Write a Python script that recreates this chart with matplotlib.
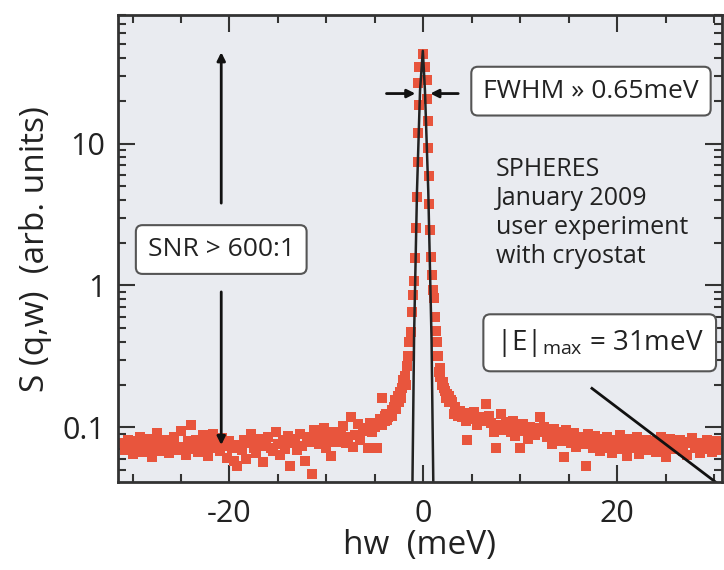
import numpy as np
import matplotlib
matplotlib.use('Agg')
import matplotlib.pyplot as plt
from matplotlib.ticker import MultipleLocator, LogLocator, FixedLocator, FixedFormatter, NullFormatter

plt.rcParams['font.family'] = ['Open Sans', 'DejaVu Sans']
plt.rcParams['mathtext.default'] = 'regular'
plt.rcParams['axes.unicode_minus'] = False

# measured spectrum, left wing (-31 ... -3.75 meV, 0.25 meV channels)
left_wing = [0.078, 0.069, 0.082, 0.073, 0.065, 0.080, 0.071, 0.086, 0.067, 0.075,
             0.083, 0.070, 0.062, 0.079, 0.091, 0.072, 0.068, 0.081, 0.074, 0.066,
             0.077, 0.085, 0.069, 0.073, 0.094, 0.071, 0.064, 0.080, 0.104, 0.070,
             0.082, 0.067, 0.078, 0.088, 0.072, 0.063, 0.079, 0.090, 0.071, 0.076,
             0.068, 0.084, 0.074, 0.061, 0.080, 0.072, 0.058, 0.053, 0.075, 0.069,
             0.081, 0.060, 0.077, 0.089, 0.071, 0.066, 0.083, 0.074, 0.057, 0.079,
             0.085, 0.072, 0.068, 0.092, 0.076, 0.064, 0.081, 0.070, 0.087, 0.053,
             0.078, 0.083, 0.069, 0.090, 0.074, 0.058, 0.086, 0.079, 0.047, 0.095,
             0.081, 0.076, 0.088, 0.099, 0.071, 0.084, 0.063, 0.092, 0.079, 0.086,
             0.090, 0.102, 0.078, 0.085, 0.118, 0.073, 0.088, 0.105, 0.082, 0.094,
             0.099, 0.071, 0.108, 0.093, 0.101, 0.072, 0.115, 0.104, 0.120, 0.112]

# right wing (3.75 ... 31 meV)
right_wing = [0.130, 0.118, 0.126, 0.082, 0.122, 0.114, 0.128, 0.103, 0.119, 0.111,
              0.115, 0.146, 0.121, 0.107, 0.093, 0.072, 0.104, 0.125, 0.096, 0.109,
              0.101, 0.092, 0.110, 0.087, 0.098, 0.072, 0.105, 0.094, 0.083, 0.100,
              0.096, 0.088, 0.099, 0.118, 0.093, 0.101, 0.085, 0.090, 0.076, 0.098,
              0.087, 0.092, 0.080, 0.062, 0.095, 0.084, 0.078, 0.091, 0.073, 0.086,
              0.082, 0.076, 0.053, 0.089, 0.079, 0.071, 0.087, 0.083, 0.068, 0.080,
              0.077, 0.085, 0.072, 0.066, 0.081, 0.074, 0.088, 0.070, 0.079, 0.063,
              0.083, 0.071, 0.076, 0.086, 0.065, 0.078, 0.073, 0.082, 0.069, 0.075,
              0.080, 0.067, 0.074, 0.085, 0.071, 0.062, 0.078, 0.083, 0.070, 0.076,
              0.073, 0.081, 0.068, 0.077, 0.064, 0.079, 0.084, 0.071, 0.075, 0.066,
              0.078, 0.070, 0.082, 0.074, 0.067, 0.076, 0.080, 0.069, 0.073, 0.077]

# elastic peak region
core_e = [-4.3, -4.0, -3.8, -3.6, -3.4, -3.25, -3.2, -3.0, -2.9, -2.8, -2.7, -2.6,
          -2.5, -2.4, -2.3, -2.2, -2.05, -1.9, -1.8, -1.7, -1.6, -1.45, -1.3, -1.2,
          -1.03, -0.92, -0.85, -0.75, -0.62, -0.58, -0.5, -0.44, -0.5, -0.4, -0.07,
          0.17, 0.34, 0.34, 0.44, 0.44, 0.58, 0.62, 0.68, 0.75, 0.85, 1.03, 1.13,
          1.2, 1.36, 1.45, 1.54, 1.6, 1.7, 1.75, 1.9, 2.0, 2.1, 2.2, 2.3, 2.4, 2.6,
          2.7, 2.9, 3.0, 3.2, 3.3, 3.5, 3.6, 4.0, 4.4]
core_s = [0.16, 0.11, 0.125, 0.118, 0.125, 0.132, 0.12, 0.14, 0.155, 0.135, 0.15, 0.165,
          0.15, 0.177, 0.16, 0.19, 0.214, 0.23, 0.2, 0.27, 0.32, 0.40, 0.47, 0.65,
          0.85, 1.08, 1.56, 2.55, 4.19, 7.38, 11.9, 18.7, 26.6, 34.8, 42.9,
          34.8, 28.1, 20.6, 14.5, 9.3, 5.95, 3.76, 2.44, 1.58, 1.19, 0.93, 0.81,
          0.60, 0.48, 0.40, 0.32, 0.245, 0.26, 0.225, 0.20, 0.21, 0.19, 0.18, 0.16, 0.172, 0.165,
          0.15, 0.155, 0.15, 0.125, 0.139, 0.13, 0.12, 0.125, 0.11]

# resolution function (solid line)
res_e = [-1.12, -0.95, -0.65, -0.34, -0.05, 0.17, 0.51, 0.85, 1.03]
res_s = [0.041, 0.45, 4.67, 23.6, 45.0, 23.6, 4.67, 0.41, 0.041]

e_left = np.linspace(-31.0, -3.75, len(left_wing))
e_right = np.linspace(3.75, 31.0, len(right_wing))

fig = plt.figure(figsize=(7.24, 5.70), dpi=100)
ax = fig.add_axes([0.163, 0.154, 0.834, 0.819])
ax.set_facecolor('#e9ebf0')

dot = dict(marker='s', ms=6.6, mew=0, ls='none', color='#e8553d')
ax.plot(e_left, left_wing, **dot)
ax.plot(e_right, right_wing, **dot)
ax.plot(core_e, core_s, **dot)
ax.plot(res_e, res_s, color='#222222', lw=1.8)

ax.set_yscale('log')
ax.set_xlim(-31.5, 30.8)
ax.set_ylim(0.041, 80)

# annotations
arr = dict(arrowstyle='-|>', color='#111111', lw=2, mutation_scale=12, shrinkA=0, shrinkB=0)
ax.annotate('', xy=(-20.85, 44), xytext=(-20.85, 3.8), arrowprops=arr)
ax.annotate('', xy=(-20.85, 0.075), xytext=(-20.85, 0.9), arrowprops=arr)
ax.annotate('', xy=(-0.82, 22.5), xytext=(-3.8, 22.5), arrowprops=arr)
ax.annotate('', xy=(0.72, 22.5), xytext=(3.6, 22.5), arrowprops=arr)
ax.plot([17.4, 31.5], [0.188, 0.035], color='#111111', lw=2)

box = dict(boxstyle='round,pad=0.45,rounding_size=0.25', fc='white', ec='#555555', lw=1.5)
ax.text(-20.85, 1.79, 'SNR > 600:1', fontsize=19, ha='center', va='center',
        color='#222222', bbox=box)
ax.text(17.3, 23.4, 'FWHM » 0.65meV', fontsize=19, ha='center', va='center',
        color='#222222', bbox=box)
ax.text(18.2, 0.394, '|E|$_{max}$ = 31meV', fontsize=20, ha='center', va='center',
        color='#222222', bbox=box)
ax.text(7.5, 8.0, 'SPHERES\nJanuary 2009\nuser experiment\nwith cryostat', fontsize=18,
        ha='left', va='top', color='#222222', linespacing=1.2)

# axes styling
ax.xaxis.set_major_locator(MultipleLocator(20))
ax.xaxis.set_minor_locator(MultipleLocator(5))
ax.yaxis.set_major_locator(FixedLocator([0.1, 1, 10]))
ax.yaxis.set_major_formatter(FixedFormatter(['0.1', '1', '10']))
ax.yaxis.set_minor_locator(LogLocator(base=10, subs=np.arange(2, 10)))
ax.yaxis.set_minor_formatter(NullFormatter())
ax.tick_params(which='both', direction='in', top=True, right=True, width=1.5,
               color='#333333', labelsize=22, labelcolor='#222222')
ax.tick_params(which='major', length=12)
ax.tick_params(which='minor', length=6)
ax.tick_params(axis='x', pad=12)
ax.tick_params(axis='y', pad=9)
for s in ax.spines.values():
    s.set_linewidth(2)
    s.set_color('#333333')

ax.set_xlabel('hw  (meV)', fontsize=24, color='#222222', labelpad=0)
ax.set_ylabel('S (q,w)  (arb. units)', fontsize=24, color='#222222', labelpad=8)

fig.savefig('out.png', dpi=100)
